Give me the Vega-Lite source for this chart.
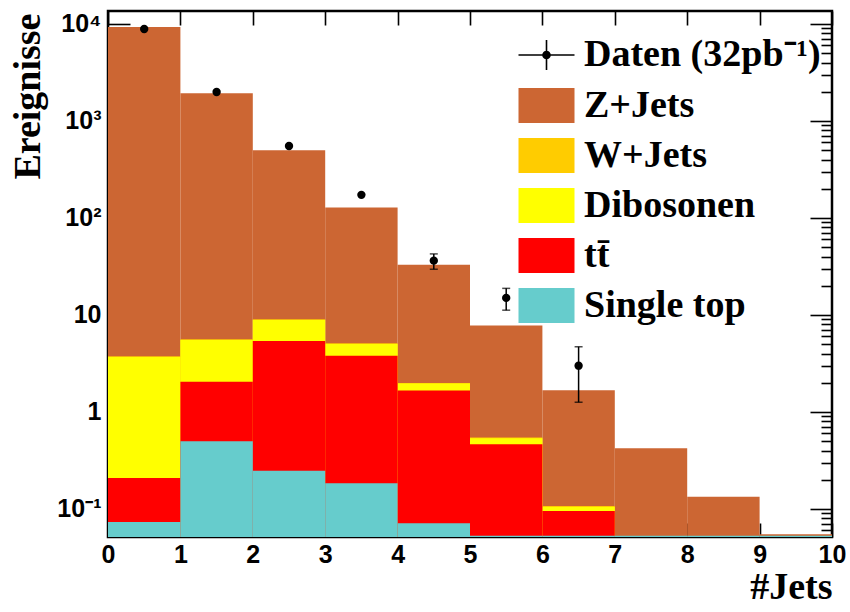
{
  "$schema": "https://vega.github.io/schema/vega-lite/v6.json",
  "width": 724,
  "height": 526,
  "autosize": "none",
  "padding": {"left": 108, "top": 11, "right": 18, "bottom": 75},
  "background": "white",
  "config": {
    "view": {"stroke": "black", "strokeWidth": 2.5},
    "axis": {
      "domain": false,
      "grid": false,
      "tickColor": "black",
      "tickWidth": 1.6,
      "labelFont": "Liberation Sans",
      "labelFontWeight": "bold",
      "labelFontSize": 25,
      "labelColor": "black",
      "labelOverlap": false,
      "labelBound": false,
      "labelFlush": false,
      "titleFont": "Liberation Serif",
      "titleFontWeight": "bold",
      "titleFontSize": 38,
      "titleColor": "black"
    },
    "legend": {
      "labelFont": "Liberation Serif",
      "labelFontWeight": "bold",
      "labelFontSize": 38,
      "labelColor": "black",
      "labelLimit": 0,
      "padding": 0
    }
  },
  "datasets": {
    "mc": [
      {"lo": 0, "hi": 1, "process": "Z+Jets", "top": 9320},
      {"lo": 1, "hi": 2, "process": "Z+Jets", "top": 1930},
      {"lo": 2, "hi": 3, "process": "Z+Jets", "top": 499},
      {"lo": 3, "hi": 4, "process": "Z+Jets", "top": 128},
      {"lo": 4, "hi": 5, "process": "Z+Jets", "top": 33.0},
      {"lo": 5, "hi": 6, "process": "Z+Jets", "top": 7.77},
      {"lo": 6, "hi": 7, "process": "Z+Jets", "top": 1.67},
      {"lo": 7, "hi": 8, "process": "Z+Jets", "top": 0.422},
      {"lo": 8, "hi": 9, "process": "Z+Jets", "top": 0.134},
      {"lo": 9, "hi": 10, "process": "Z+Jets", "top": 0.0548},
      {"lo": 0, "hi": 1, "process": "W+Jets", "top": 3.75},
      {"lo": 1, "hi": 2, "process": "W+Jets", "top": 5.61},
      {"lo": 2, "hi": 3, "process": "W+Jets", "top": 9.01},
      {"lo": 3, "hi": 4, "process": "W+Jets", "top": 5.10},
      {"lo": 4, "hi": 5, "process": "W+Jets", "top": 1.99},
      {"lo": 5, "hi": 6, "process": "W+Jets", "top": 0.544},
      {"lo": 6, "hi": 7, "process": "W+Jets", "top": 0.107},
      {"lo": 0, "hi": 1, "process": "Dibosonen", "top": 3.69},
      {"lo": 1, "hi": 2, "process": "Dibosonen", "top": 5.52},
      {"lo": 2, "hi": 3, "process": "Dibosonen", "top": 8.87},
      {"lo": 3, "hi": 4, "process": "Dibosonen", "top": 5.02},
      {"lo": 4, "hi": 5, "process": "Dibosonen", "top": 1.96},
      {"lo": 5, "hi": 6, "process": "Dibosonen", "top": 0.536},
      {"lo": 6, "hi": 7, "process": "Dibosonen", "top": 0.105},
      {"lo": 0, "hi": 1, "process": "tt̄", "top": 0.209},
      {"lo": 1, "hi": 2, "process": "tt̄", "top": 2.05},
      {"lo": 2, "hi": 3, "process": "tt̄", "top": 5.40},
      {"lo": 3, "hi": 4, "process": "tt̄", "top": 3.80},
      {"lo": 4, "hi": 5, "process": "tt̄", "top": 1.66},
      {"lo": 5, "hi": 6, "process": "tt̄", "top": 0.464},
      {"lo": 6, "hi": 7, "process": "tt̄", "top": 0.0953},
      {"lo": 0, "hi": 1, "process": "Single top", "top": 0.0734},
      {"lo": 1, "hi": 2, "process": "Single top", "top": 0.499},
      {"lo": 2, "hi": 3, "process": "Single top", "top": 0.248},
      {"lo": 3, "hi": 4, "process": "Single top", "top": 0.184},
      {"lo": 4, "hi": 5, "process": "Single top", "top": 0.0711},
      {"lo": 5, "hi": 6, "process": "Single top", "top": 0.053},
      {"lo": 6, "hi": 7, "process": "Single top", "top": 0.053},
      {"lo": 7, "hi": 8, "process": "Single top", "top": 0.053},
      {"lo": 8, "hi": 9, "process": "Single top", "top": 0.053},
      {"lo": 9, "hi": 10, "process": "Single top", "top": 0.053}
    ],
    "daten": [
      {"x": 0.5, "n": 8880, "elo": null, "ehi": null, "label": "Daten (32pb⁻¹)"},
      {"x": 1.5, "n": 1990, "elo": null, "ehi": null, "label": "Daten (32pb⁻¹)"},
      {"x": 2.5, "n": 552, "elo": null, "ehi": null, "label": "Daten (32pb⁻¹)"},
      {"x": 3.5, "n": 173, "elo": null, "ehi": null, "label": "Daten (32pb⁻¹)"},
      {"x": 4.5, "n": 36.3, "elo": 29.6, "ehi": 42.6, "label": "Daten (32pb⁻¹)"},
      {"x": 5.5, "n": 15.0, "elo": 11.2, "ehi": 18.8, "label": "Daten (32pb⁻¹)"},
      {"x": 6.5, "n": 3.0, "elo": 1.26, "ehi": 4.7, "label": "Daten (32pb⁻¹)"}
    ]
  },
  "resolve": {"axis": {"x": "independent", "y": "independent"}},
  "layer": [
    {
      "data": {"name": "mc"},
      "mark": {"type": "bar", "clip": true},
      "encoding": {
        "x": {
          "field": "lo", "type": "quantitative",
          "scale": {"domain": [0, 10], "nice": false, "zero": false},
          "axis": {
            "orient": "bottom",
            "values": [0, 1, 2, 3, 4, 5, 6, 7, 8, 9, 10],
            "tickSize": -14,
            "labelPadding": 19,
            "title": "#Jets",
            "titleAnchor": "end",
            "titleAlign": "right",
            "titleBaseline": "alphabetic",
            "titleX": 724,
            "titleY": 61
          }
        },
        "x2": {"field": "hi"},
        "y": {
          "field": "top", "type": "quantitative",
          "scale": {"type": "log", "domain": [0.0514, 13600], "nice": false},
          "axis": {
            "orient": "left",
            "values": [0.06, 0.07, 0.08, 0.09, 0.1, 0.2, 0.3, 0.4, 0.5, 0.6, 0.7, 0.8, 0.9, 1, 2, 3, 4, 5, 6, 7, 8, 9, 10, 20, 30, 40, 50, 60, 70, 80, 90, 100, 200, 300, 400, 500, 600, 700, 800, 900, 1000, 2000, 3000, 4000, 5000, 6000, 7000, 8000, 9000, 10000],
            "tickSize": {"condition": {"test": "datum.value == 10000 || datum.value == 1000 || datum.value == 100 || datum.value == 10 || datum.value == 1 || datum.value == 0.1", "value": -22}, "value": -11},
            "labelPadding": 29,
            "labelExpr": "datum.value == 10000 ? '10⁴' : datum.value == 1000 ? '10³' : datum.value == 100 ? '10²' : datum.value == 10 ? '10' : datum.value == 1 ? '1' : datum.value == 0.1 ? '10⁻¹' : ''",
            "title": "Ereignisse",
            "titleAngle": 270,
            "titleAlign": "right",
            "titleBaseline": "middle",
            "titleX": -80,
            "titleY": 2
          }
        },
        "y2": {"datum": 0.0514},
        "color": {
          "field": "process", "type": "nominal",
          "scale": {
            "domain": ["Z+Jets", "W+Jets", "Dibosonen", "tt̄", "Single top"],
            "range": ["#CC6633", "#FFCC00", "#FFFF00", "#FF0000", "#66CCCC"]
          },
          "legend": {
            "orient": "none",
            "legendX": 419.5,
            "legendY": 75.5,
            "title": null,
            "symbolType": "M-1.6,-1H1.6V1H-1.6Z",
            "symbolSize": 1225,
            "symbolStrokeWidth": 0,
            "symbolOpacity": 1,
            "labelOffset": 18.5,
            "rowPadding": 12
          }
        }
      }
    },
    {
      "data": {"name": "daten"},
      "mark": {"type": "rule", "color": "black", "strokeWidth": 1.5},
      "encoding": {
        "x": {"field": "x", "type": "quantitative", "axis": null},
        "y": {"field": "elo", "type": "quantitative", "axis": null},
        "y2": {"field": "ehi"}
      }
    },
    {
      "data": {"name": "daten"},
      "mark": {"type": "tick", "orient": "horizontal", "size": 8, "thickness": 1.5, "color": "black"},
      "encoding": {
        "x": {"field": "x", "type": "quantitative", "axis": null},
        "y": {"field": "elo", "type": "quantitative", "axis": null}
      }
    },
    {
      "data": {"name": "daten"},
      "mark": {"type": "tick", "orient": "horizontal", "size": 8, "thickness": 1.5, "color": "black"},
      "encoding": {
        "x": {"field": "x", "type": "quantitative", "axis": null},
        "y": {"field": "ehi", "type": "quantitative", "axis": null}
      }
    },
    {
      "data": {"name": "daten"},
      "mark": {"type": "point", "filled": true, "shape": "circle", "size": 70, "color": "black", "opacity": 1},
      "encoding": {
        "x": {
          "field": "x", "type": "quantitative",
          "scale": {"domain": [0, 10], "nice": false, "zero": false},
          "axis": {
            "orient": "top",
            "values": [0, 1, 2, 3, 4, 5, 6, 7, 8, 9, 10],
            "tickSize": -14,
            "labels": false,
            "title": null
          }
        },
        "y": {
          "field": "n", "type": "quantitative",
          "axis": {
            "orient": "right",
            "values": [0.06, 0.07, 0.08, 0.09, 0.1, 0.2, 0.3, 0.4, 0.5, 0.6, 0.7, 0.8, 0.9, 1, 2, 3, 4, 5, 6, 7, 8, 9, 10, 20, 30, 40, 50, 60, 70, 80, 90, 100, 200, 300, 400, 500, 600, 700, 800, 900, 1000, 2000, 3000, 4000, 5000, 6000, 7000, 8000, 9000, 10000],
            "tickSize": {"condition": {"test": "datum.value == 10000 || datum.value == 1000 || datum.value == 100 || datum.value == 10 || datum.value == 1 || datum.value == 0.1", "value": -22}, "value": -11},
            "labels": false,
            "title": null
          }
        }
      }
    },
    {
      "data": {"name": "daten"},
      "mark": {"type": "point", "filled": false, "color": "black", "strokeWidth": 1.5, "opacity": 0, "size": 1225},
      "encoding": {
        "x": {"field": "x", "type": "quantitative", "axis": null},
        "y": {"field": "n", "type": "quantitative", "axis": null},
        "shape": {
          "field": "label", "type": "nominal",
          "scale": {"range": ["M-1.6,0H1.6M0,-0.857V0.857M0.2,0A0.2,0.2,0,1,1,-0.2,0A0.2,0.2,0,1,1,0.2,0ZM0.13,0A0.13,0.13,0,1,1,-0.13,0A0.13,0.13,0,1,1,0.13,0ZM0.06,0A0.06,0.06,0,1,1,-0.06,0A0.06,0.06,0,1,1,0.06,0Z"]},
          "legend": {
            "orient": "none",
            "legendX": 419.5,
            "legendY": 25,
            "title": null,
            "symbolSize": 1225,
            "symbolFillColor": "black",
            "symbolStrokeColor": "black",
            "symbolStrokeWidth": 1.6,
            "symbolOpacity": 1,
            "labelOffset": 18.5,
            "encode": {
              "symbols": {
                "update": {
                  "stroke": {"value": "black"},
                  "strokeWidth": {"value": 1.6},
                  "opacity": {"value": 1}
                }
              }
            }
          }
        }
      }
    }
  ]
}
